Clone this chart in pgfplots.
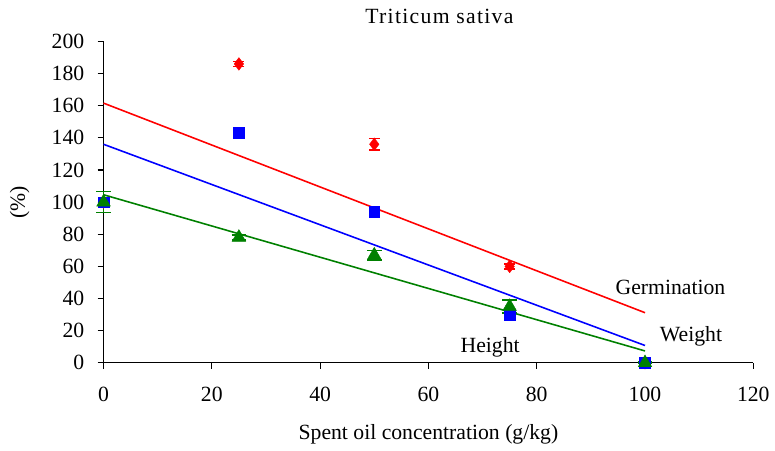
\documentclass[border=0pt]{standalone}
\usepackage{pgfplots}
\pgfplotsset{compat=1.18}
\usepackage{fontspec}
\setmainfont{Liberation Serif}
\definecolor{xlgreen}{RGB}{0,128,0}
\begin{document}
\fontsize{22}{26}\selectfont
\begin{tikzpicture}
\begin{axis}[
    scale only axis,
    width=659pt, height=326pt,
    xmin=0, xmax=120, ymin=0, ymax=200,
    xtick={0,20,...,120}, ytick={0,20,...,200},
    axis x line*=bottom, axis y line*=left,
    axis line style={line width=1.2pt},
    tick style={line width=1.2pt, black},
    tick align=outside, major tick length=6pt,
    xticklabel={\pgfmathprintnumber[assume math mode=true]{\tick}},
    yticklabel={\pgfmathprintnumber[assume math mode=true]{\tick}},
    xticklabel style={yshift=-11pt, font=\fontsize{22}{26}\selectfont},
    yticklabel style={xshift=-6pt, font=\fontsize{22}{26}\selectfont},
    title={\addfontfeature{LetterSpace=6}Triticum sativa},
    title style={at={(axis description cs:0.517,1.058)}, anchor=center},
    xlabel={Spent oil concentration (g/kg)},
    ylabel={(\%)},
    xlabel style={at={(axis description cs:0.5,-0.221)}, anchor=center},
    ylabel style={at={(axis description cs:-0.129,0.5)}, anchor=center},
    clip=false,
]
% trend lines
\addplot[red, line width=1.6pt] coordinates {(0,161.6) (100,31.2)};
\addplot[blue, line width=1.6pt] coordinates {(0,136.0) (100,10.8)};
\addplot[xlgreen, line width=1.6pt] coordinates {(0,104.6) (100,7.4)};
% Germination
\addplot[only marks, red, mark=diamond*, mark size=6.4pt,
    error bars/.cd, y dir=both, y explicit,
    error bar style={red, line width=1.6pt}, error mark options={red, rotate=90, mark size=5.5pt, line width=1.6pt}]
    coordinates {(0,100) +- (0,2) (25,186) +- (0,1.5) (50,136) +- (0,3.5) (75,60) +- (0,1.5) (100,0) +- (0,0.5)};
% Weight
\addplot[only marks, blue, mark=square*, mark size=5.5pt]
    coordinates {(0,100) (25,143) (50,94) (75,30) (100,0)};
% Height
\addplot[only marks, xlgreen, mark=triangle*, mark size=8pt,
    error bars/.cd, y dir=both, y explicit,
    error bar style={xlgreen, line width=1.6pt}, error mark options={xlgreen, rotate=90, mark size=7.5pt, line width=1.6pt}]
    coordinates {(0,100) +- (0,6.5) (25,78) +- (0,1.5) (50,67) +- (0,3) (75,35) +- (0,4) (100,0) +- (0,0.5)};
\node at (axis cs:104.7,47.2) {Germination};
\node at (axis cs:108.5,16.6) {Weight};
\node at (axis cs:71.4,9.8) {Height};
\end{axis}
\pgfresetboundingbox
\path (-105pt,-89pt) rectangle (681pt,368pt);
\end{tikzpicture}
\end{document}
